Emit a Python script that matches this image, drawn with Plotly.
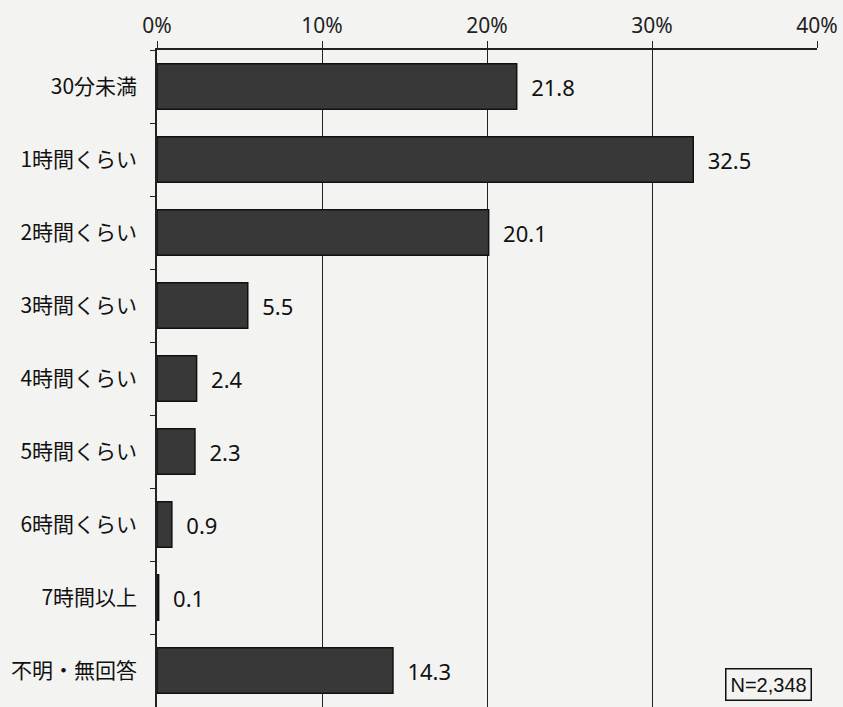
import plotly.graph_objects as go

categories = ["30分未満", "1時間くらい", "2時間くらい", "3時間くらい", "4時間くらい",
              "5時間くらい", "6時間くらい", "7時間以上", "不明・無回答"]
values = [21.8, 32.5, 20.1, 5.5, 2.4, 2.3, 0.9, 0.1, 14.3]
tick_vals = [0, 10, 20, 30, 40]
tick_text = ["0%", "10%", "20%", "30%", "40%"]
note = "N=2,348"

BG = "#f3f3f1"
fig = go.Figure()
fig.add_trace(go.Bar(
    y=categories, x=values, orientation="h",
    marker=dict(color="#383838", line=dict(color="#111111", width=1.5)),
    text=["\u00a0\u00a0" + f"{v:.1f}" for v in values], textposition="outside",
    textfont=dict(size=22, color="#111111", family="Noto Sans"),
    cliponaxis=False, width=0.62,
))

fig.update_layout(
    width=843, height=707,
    margin=dict(l=157, r=26, t=50, b=0),
    paper_bgcolor=BG, plot_bgcolor=BG,
    showlegend=False,
    font=dict(family="Noto Sans CJK JP", color="#111111"),
    xaxis=dict(side="top", range=[0, 40], tickvals=tick_vals, ticktext=tick_text,
               showgrid=True, gridcolor="#222222", gridwidth=1.2,
               showline=True, linecolor="#222222", linewidth=1.5,
               ticks="outside", ticklen=7, tickcolor="#222222",
               tickfont=dict(size=21, color="#222222", family="Noto Sans"),
               zeroline=False),
    yaxis=dict(autorange=False, range=[8.5, -0.5], type="category",
               showline=True, linecolor="#222222", linewidth=1.5,
               ticks="outside", ticklen=5, tickcolor="#222222", tickson="boundaries",
               tickfont=dict(size=21, color="#111111"), ticklabelstandoff=14,
               showgrid=False),
)

fig.add_annotation(xref="paper", yref="paper", x=0.993, y=0.009,
                   xanchor="right", yanchor="bottom", text=note, showarrow=False,
                   font=dict(size=20, color="#111111", family="Liberation Sans"),
                   bordercolor="#111111", borderwidth=1.5, borderpad=4,
                   bgcolor=BG)

fig.write_html("out.html", config={"displayModeBar": False},
               post_script="document.body.style.margin='0';document.body.style.background='%s';" % BG)
